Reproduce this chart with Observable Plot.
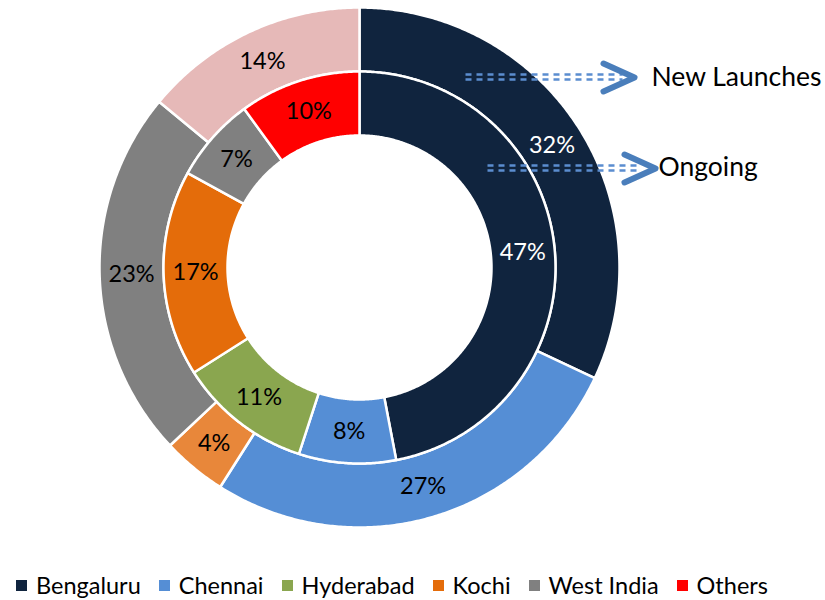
<!DOCTYPE html>
<html><head><meta charset="utf-8">
<script src="https://cdn.jsdelivr.net/npm/d3@7"></script>
<script src="https://cdn.jsdelivr.net/npm/@observablehq/plot@0.6"></script>
<style>
body{margin:0;background:#fff;font-family:Lato,sans-serif;}
#legend{display:flex;align-items:center;height:30px;padding-left:16px;font-size:23.5px;color:#000;font-family:Lato,sans-serif;}
#legend .item{display:inline-flex;align-items:center;margin-right:18px;}
#legend .sw{display:inline-block;width:11px;height:11px;margin-right:9px;}
</style></head><body><div id="chart"></div><div id="legend"></div>
<script>
// ---- data ----
const cities = ["Bengaluru","Chennai","Hyderabad","Kochi","West India","Others"];
const newLaunches = [32,27,0,4,23,14];
const ongoing = [47,8,11,17,7,10];
const ringNames = ["New Launches","Ongoing"];
// ---- styles ----
const innerColors = ["#10243e","#558ed5","#8aa64f","#e46c0a","#808080","#ff0000"];
const outerColors = ["#10243e","#558ed5","#8aa64f","#e8873a","#808080","#e6b9b8"];
const labelColors = ["#ffffff","#000000","#000000","#000000","#000000","#000000"];
const W = 825, H = 570, CX = 359, CY = 267, R = 260;
const outerR = [196/R, 1], innerR = [132/R, 196/R];

const slices = [], labels = [];
function ring(values, colors, r0, r1, name) {
  const arcs = d3.pie().sort(null).value(d => d)(values);
  arcs.forEach((a, i) => {
    const span = a.endAngle - a.startAngle;
    if (span <= 0) return;
    const id = name + i;
    const n = Math.max(2, Math.ceil(span / 0.008));
    const pts = [];
    for (let k = 0; k <= n; k++) { const t = a.startAngle + span * k / n; pts.push({x: r1 * Math.sin(t), y: r1 * Math.cos(t)}); }
    for (let k = n; k >= 0; k--) { const t = a.startAngle + span * k / n; pts.push({x: r0 * Math.sin(t), y: r0 * Math.cos(t)}); }
    pts.push(pts[0]);
    pts.forEach(p => slices.push({x: p.x, y: p.y, id, color: colors[i]}));
    const m = (a.startAngle + a.endAngle) / 2, rm = (r0 + r1) / 2;
    labels.push({x: rm * Math.sin(m), y: rm * Math.cos(m), text: values[i] + "%", color: labelColors[i]});
  });
}
ring(newLaunches, outerColors, outerR[0], outerR[1], "outer");
ring(ongoing, innerColors, innerR[0], innerR[1], "inner");

// annotation arrows (in chart units, outer radius = 1)
const u = (px, py) => ({x: (px - CX) / R, y: (CY - py) / R});
const dashes = [
  {id: "n1", ...u(465, 74)}, {id: "n1", ...u(622, 74)},
  {id: "n2", ...u(465, 79)}, {id: "n2", ...u(622, 79)},
  {id: "o1", ...u(487, 165)}, {id: "o1", ...u(640, 165)},
  {id: "o2", ...u(487, 170)}, {id: "o2", ...u(640, 170)}
];
const chevrons = [
  {id: "n", ...u(603, 63)}, {id: "n", ...u(634, 77)}, {id: "n", ...u(603, 91)},
  {id: "o", ...u(624, 154)}, {id: "o", ...u(655, 168)}, {id: "o", ...u(624, 182)}
];
const ringLabels = [
  {text: ringNames[0], ...u(651, 77)},
  {text: ringNames[1], ...u(658, 167)}
];

const chart = Plot.plot({
  width: W, height: H, margin: 0,
  x: {domain: [-CX / R, (W - CX) / R], axis: null},
  y: {domain: [-(H - CY) / R, CY / R], axis: null},
  color: {type: "identity"},
  style: {fontFamily: "Lato, sans-serif", background: "white"},
  marks: [
    Plot.line(slices, {x: "x", y: "y", z: "id", fill: "color", stroke: "white", strokeWidth: 2.5, curve: "linear"}),
    Plot.text(labels, {x: "x", y: "y", text: "text", fill: "color", fontSize: 23.5}),
    Plot.line(dashes, {x: "x", y: "y", z: "id", stroke: "#5b8dd0", strokeWidth: 2.5, strokeDasharray: "6,5", strokeLinecap: "butt"}),
    Plot.line(chevrons, {x: "x", y: "y", z: "id", stroke: "#4a7ebb", strokeWidth: 6, strokeLinecap: "round", strokeLinejoin: "round"}),
    Plot.text(ringLabels, {x: "x", y: "y", text: "text", textAnchor: "start", fontSize: 26.5, fill: "black"})
  ]
});
document.getElementById("chart").append(chart);

const leg = document.getElementById("legend");
cities.forEach((c, i) => {
  const it = document.createElement("span"); it.className = "item";
  const sw = document.createElement("span"); sw.className = "sw"; sw.style.background = innerColors[i];
  it.append(sw, document.createTextNode(c));
  leg.append(it);
});
</script></body></html>
